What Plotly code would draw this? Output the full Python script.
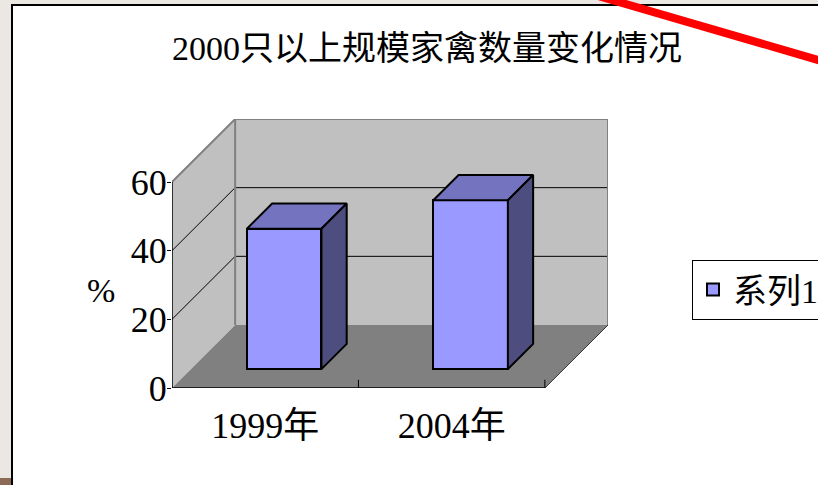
import plotly.graph_objects as go

# --- data ---
categories = ["1999年", "2004年"]
values = [40.9, 49.2]
series_name = "系列1"
y_ticks = [0, 20, 40, 60]
title_text = "2000只以上规模家禽数量变化情况"

# --- pseudo-3D geometry (in axis units) ---
N = len(categories)
Y_MAX = 60
DX = 0.3387          # depth offset along x (category units)
DY = 18.35           # depth offset along y (value units)
BAR_W = 0.4          # bar width as fraction of a category slot
T0, T1 = 0.3, 0.7    # bar front/back position along the depth

W, H = 818, 485
ML, MR, MT, MB = 172, 210, 119, 97
PW, PH = W - ML - MR, H - MT - MB

FONT = "Liberation Serif, Noto Sans CJK SC, serif"

def px(x):  # page pixel -> paper x
    return (x - ML) / PW

def py(y):  # page pixel -> paper y
    return (H - MB - y) / PH

def poly(pts):
    return "M " + " L ".join(f"{a},{b}" for a, b in pts) + " Z"

shapes = []

# page frame
shapes.append(dict(type="rect", xref="paper", yref="paper",
                   x0=px(12), x1=px(830), y0=py(5), y1=py(495),
                   fillcolor="white", line=dict(color="black", width=2), layer="below"))
shapes.append(dict(type="rect", xref="paper", yref="paper",
                   x0=px(-2), x1=px(11), y0=py(478), y1=py(490),
                   fillcolor="#8c6a56", line=dict(width=0), layer="below"))

# walls and floor
shapes.append(dict(type="path", xref="x", yref="y", layer="below",
                   path=poly([(0, 0), (0, Y_MAX), (DX, Y_MAX + DY), (DX, DY)]),
                   fillcolor="#c0c0c0", line=dict(width=0)))
shapes.append(dict(type="path", xref="x", yref="y", layer="below",
                   path=poly([(DX, DY), (DX, Y_MAX + DY), (N + DX, Y_MAX + DY), (N + DX, DY)]),
                   fillcolor="#c0c0c0", line=dict(width=0)))
shapes.append(dict(type="path", xref="x", yref="y", layer="below",
                   path=poly([(0, 0), (N, 0), (N + DX, DY), (DX, DY)]),
                   fillcolor="#808080", line=dict(width=0)))

# gridlines on side and back walls
for v in y_ticks[1:-1]:
    shapes.append(dict(type="line", xref="x", yref="y", layer="below",
                       x0=0, y0=v, x1=DX, y1=v + DY, line=dict(color="black", width=1)))
    shapes.append(dict(type="line", xref="x", yref="y", layer="below",
                       x0=DX, y0=v + DY, x1=N + DX, y1=v + DY, line=dict(color="black", width=1)))

# wall edges
edge = dict(color="#808080", width=2)
for (a, b, c, d) in [(0, Y_MAX, DX, Y_MAX + DY),
                     (DX, Y_MAX + DY, N + DX, Y_MAX + DY),
                     (N + DX, Y_MAX + DY, N + DX, DY),
                     (DX, DY, DX, Y_MAX + DY)]:
    shapes.append(dict(type="line", xref="x", yref="y", layer="below",
                       x0=a, y0=b, x1=c, y1=d, line=edge))
shapes.append(dict(type="line", xref="x", yref="y", layer="below",
                   x0=N, y0=0, x1=N + DX, y1=DY, line=dict(color="#333333", width=1)))

# front axes
shapes.append(dict(type="line", xref="x", yref="y", layer="below",
                   x0=0, y0=0, x1=N, y1=0, line=dict(color="black", width=1.5)))
shapes.append(dict(type="line", xref="x", yref="y", layer="below",
                   x0=0, y0=0, x1=0, y1=Y_MAX, line=dict(color="black", width=1.5)))
for k in range(1, N + 1):
    shapes.append(dict(type="line", xref="x", yref="y", layer="below",
                       x0=k, y0=0, x1=k, y1=2.4, line=dict(color="black", width=1)))

# red stroke across the upper right corner
shapes.append(dict(type="line", xref="paper", yref="paper",
                   x0=px(590), y0=py(-6.4), x1=px(840), y1=py(66.4),
                   line=dict(color="#ff0000", width=8), layer="above"))

fig = go.Figure()

# bar front faces
centers = [i + 0.5 + T0 * DX for i in range(N)]
base = T0 * DY
fig.add_trace(go.Bar(
    x=centers, y=values, base=[base] * N, width=BAR_W, name=series_name,
    marker=dict(color="#9999ff", line=dict(color="black", width=2)),
    showlegend=True, hoverinfo="skip"))

# bar top and side faces
ddx = (T1 - T0) * DX
ddy = (T1 - T0) * DY
for c, v in zip(centers, values):
    x0, x1 = c - BAR_W / 2, c + BAR_W / 2
    top = v + base
    tx = [x0, x1, x1 + ddx, x0 + ddx, x0]
    ty = [top, top, top + ddy, top + ddy, top]
    fig.add_trace(go.Scatter(x=tx, y=ty, mode="lines", fill="toself",
                             fillcolor="#7373bf", line=dict(color="black", width=2),
                             showlegend=False, hoverinfo="skip"))
    sx = [x1, x1 + ddx, x1 + ddx, x1, x1]
    sy = [base, base + ddy, top + ddy, top, base]
    fig.add_trace(go.Scatter(x=sx, y=sy, mode="lines", fill="toself",
                             fillcolor="#4d4d80", line=dict(color="black", width=2),
                             showlegend=False, hoverinfo="skip"))

fig.update_layout(
    width=W, height=H,
    margin=dict(l=ML, r=MR, t=MT, b=MB, autoexpand=False),
    paper_bgcolor="#ebe8e4",
    plot_bgcolor="rgba(0,0,0,0)",
    font=dict(family=FONT, color="black"),
    title=dict(text=title_text, font=dict(size=34, family=FONT, color="black"),
               x=427 / W, xanchor="center", xref="container",
               y=1 - 48 / H, yanchor="middle", yref="container"),
    shapes=shapes,
    bargap=0,
    showlegend=True,
    legend=dict(x=px(692), y=py(260), xanchor="left", yanchor="top",
                bordercolor="black", borderwidth=1, bgcolor="white",
                font=dict(size=34, family=FONT, color="black")),
    annotations=[dict(text="%", xref="paper", yref="paper", x=px(101), y=py(290),
                      xanchor="center", yanchor="middle", showarrow=False,
                      font=dict(size=34, family=FONT, color="black"))],
)

fig.update_xaxes(range=[0, N + DX], tickvals=[i + 0.5 for i in range(N)], ticktext=categories,
                 showgrid=False, zeroline=False, showline=False,
                 ticks="outside", ticklen=6, tickcolor="rgba(0,0,0,0)",
                 tickfont=dict(size=36, family=FONT, color="black"), fixedrange=True)
fig.update_yaxes(range=[0, Y_MAX + DY], tickvals=y_ticks,
                 showgrid=False, zeroline=False, showline=False,
                 ticks="outside", ticklen=4, tickcolor="black", tickwidth=1,
                 ticklabelstandoff=-7,
                 tickfont=dict(size=36, family=FONT, color="black"), fixedrange=True)

fig.write_html("out.html")
